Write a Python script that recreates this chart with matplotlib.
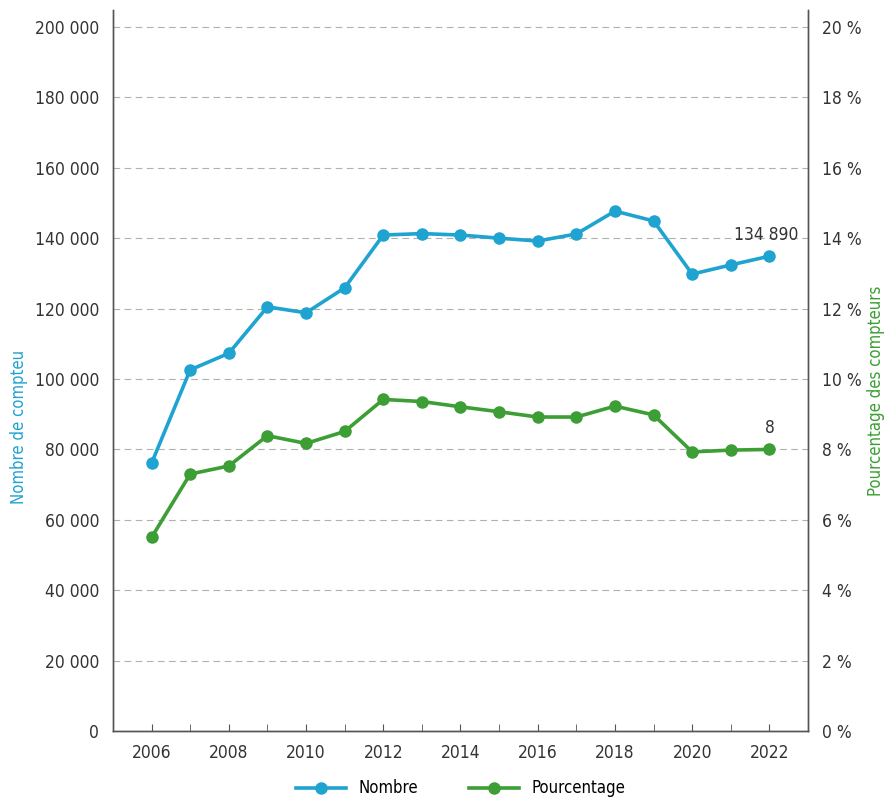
import matplotlib
matplotlib.use("Agg")
import matplotlib.pyplot as plt
from matplotlib.ticker import FuncFormatter, MultipleLocator

plt.rcParams['font.family'] = ['DejaVu Sans']
plt.rcParams['font.stretch'] = 'condensed'

years = list(range(2006, 2023))
nombre = [76100, 102600, 107300, 120500, 118800, 125900, 140900, 141300, 140900,
          140000, 139200, 141200, 147700, 144900, 129800, 132400, 134890]
pourcentage = [5.5, 7.3, 7.53, 8.39, 8.17, 8.51, 9.42, 9.36, 9.21,
               9.07, 8.92, 8.92, 9.23, 8.98, 7.93, 7.98, 8.0]

blue = '#1fa3d1'
green = '#3c9e34'
text_col = '#333333'

fig = plt.figure(figsize=(8.86, 8.06), dpi=100)
ax = fig.add_axes([0.1275, 0.093, 0.7845, 0.8945])
ax2 = ax.twinx()

ax.plot(years, nombre, color=blue, lw=2.6, marker='o', ms=8, label='Nombre', zorder=3)
ax2.plot(years, pourcentage, color=green, lw=2.6, marker='o', ms=8, label='Pourcentage', zorder=3)

ax.set_xlim(2005, 2023)
ax.set_ylim(0, 204800)
ax2.set_ylim(0, 20.48)

ax.yaxis.set_major_locator(MultipleLocator(20000))
ax2.yaxis.set_major_locator(MultipleLocator(2))
ax.set_xticks(years, minor=True)
ax.set_xticks(range(2006, 2023, 2))

ax.yaxis.set_major_formatter(FuncFormatter(lambda v, p: f"{int(v):,}".replace(',', ' ')))
ax2.yaxis.set_major_formatter(FuncFormatter(lambda v, p: f"{int(round(v))} %"))

ax.grid(axis='y', color='#b0b0b0', ls=(0, (6, 4)), lw=0.8)
ax.set_axisbelow(True)

for a in (ax, ax2):
    a.spines['top'].set_visible(False)
    for s in ('left', 'right', 'bottom'):
        a.spines[s].set_color('#555555')
        a.spines[s].set_linewidth(1)
    a.tick_params(axis='y', length=0, labelsize=12.5, colors=text_col, pad=10)

ax.tick_params(axis='x', which='both', direction='in', length=5, color='#555555',
               labelsize=12.5, labelcolor=text_col, pad=9)

fig.text(0.021, 0.47, 'Nombre de compteu', color=blue, fontsize=12,
         rotation=90, ha='center', va='center')
fig.text(0.989, 0.515, 'Pourcentage des compteurs', color=green, fontsize=12,
         rotation=90, ha='center', va='center')

ax.annotate(f"{nombre[-1]:,}".replace(',', ' '), (years[-1], nombre[-1]),
            xytext=(-2, 9), textcoords='offset points', ha='center', va='bottom',
            fontsize=12.5, color=text_col)
ax2.annotate(f"{int(pourcentage[-1])}", (years[-1], pourcentage[-1]),
             xytext=(0, 9), textcoords='offset points', ha='center', va='bottom',
             fontsize=12.5, color=text_col)

h1, l1 = ax.get_legend_handles_labels()
h2, l2 = ax2.get_legend_handles_labels()
fig.legend(h1 + h2, l1 + l2, loc='lower center', bbox_to_anchor=(0.52, -0.008),
           ncol=2, frameon=False, fontsize=12, handlelength=3, columnspacing=3)

fig.savefig('out.png', dpi=100)
